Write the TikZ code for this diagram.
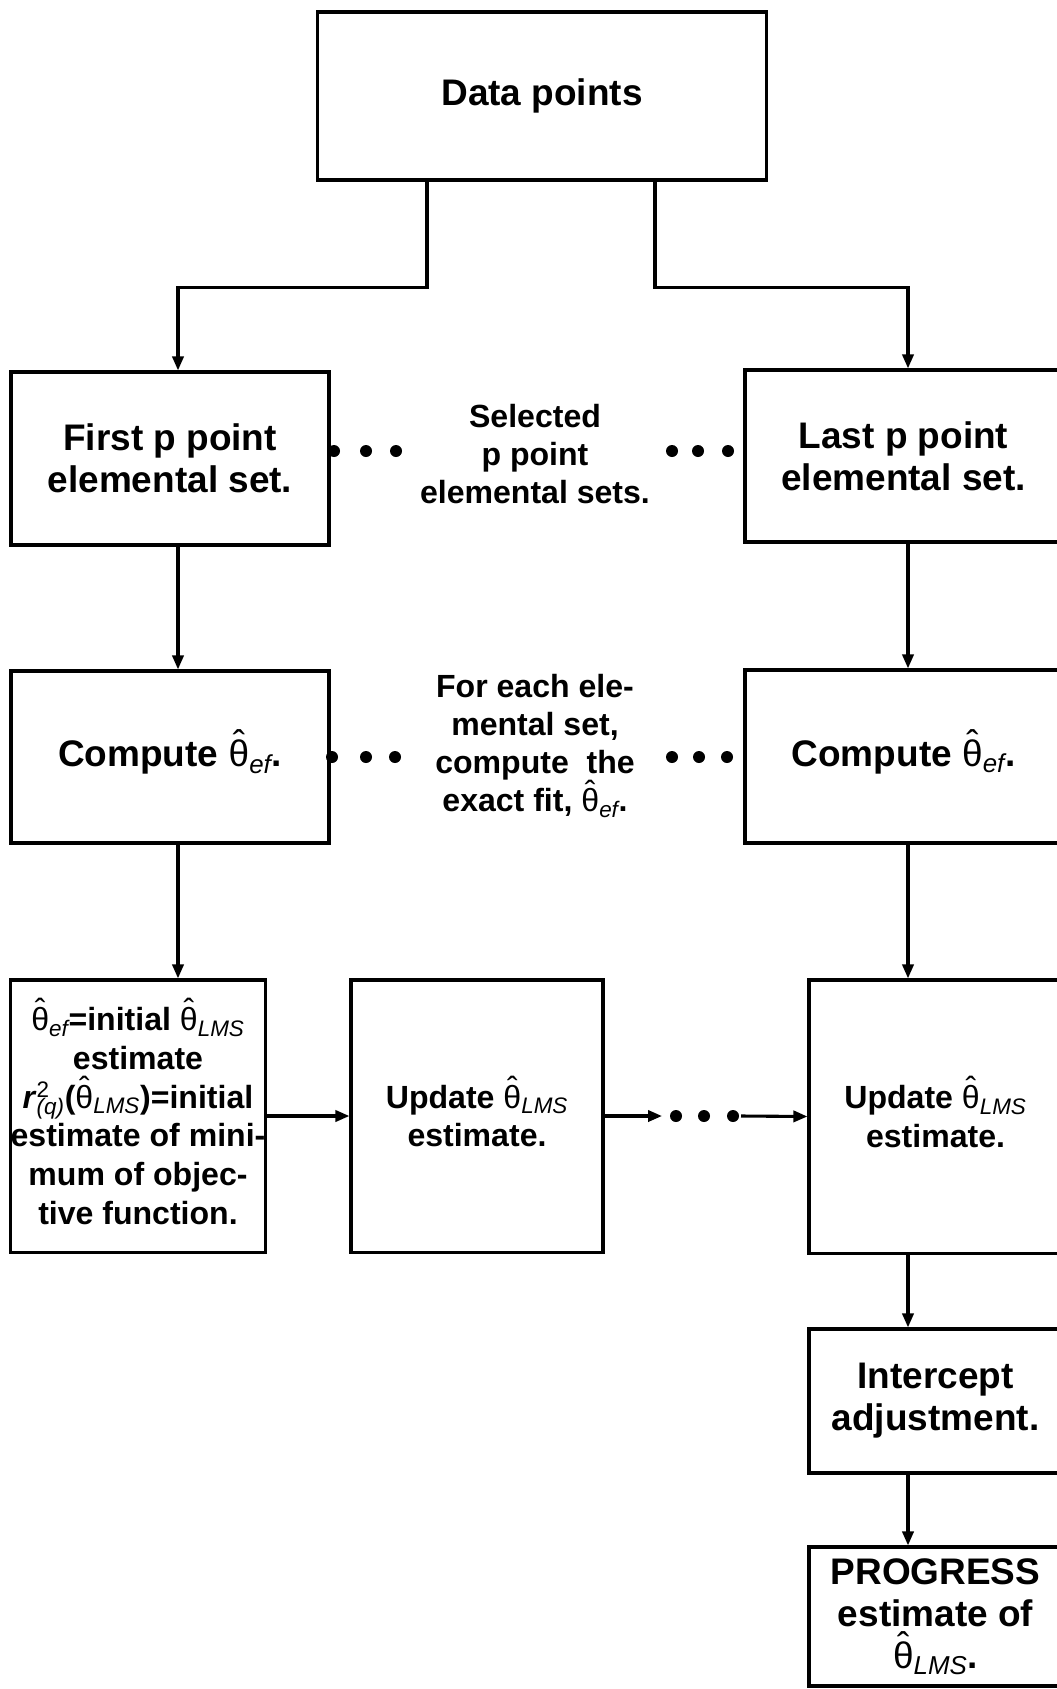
\documentclass[tikz,border=0pt]{standalone}
\usepackage{fontspec}
\setmainfont{Liberation Sans}
\usetikzlibrary{arrows.meta}
\newcommand{\thhat}[1]{{\mdseries\ooalign{θ\cr\hidewidth\raisebox{0.27em}{ˆ}\hidewidth\cr}}\textsubscript{\mdseries\itshape #1}}

\begin{document}
\begin{tikzpicture}[x=0.025cm, y=-0.025cm,
  bigbox/.style={draw, line width=2.2pt, align=center, inner sep=0pt,
    font=\fontsize{26.3}{30}\selectfont\bfseries},
  smallbox/.style={bigbox, font=\fontsize{22.8}{27.6}\selectfont\bfseries},
  note/.style={align=center, inner sep=0pt, font=\fontsize{22.8}{27.2}\selectfont\bfseries},
  arr/.style={draw, line width=2.2pt, -{Triangle[length=0.35cm, width=0.28cm]}}]
  \useasboundingbox (0,0) rectangle (1057,1689);
  \clip (0,0) rectangle (1057,1689);

  \node[bigbox, minimum width=11.2cm, minimum height=4.2cm] (data) at (542,96) {Data points};
  \node[bigbox, minimum width=7.95cm, minimum height=4.325cm] (first) at (170,458.5)
    {First p point\\elemental set.};
  \node[bigbox, minimum width=7.925cm, minimum height=4.3cm] (last) at (903.5,456)
    {Last p point\\elemental set.};
  \node[note] (sel) at (535,454) {Selected\\p point\\elemental sets.};

  \node[bigbox, minimum width=7.95cm, minimum height=4.3cm] (compL) at (170,757)
    {Compute \thhat{ef}.};
  \node[bigbox, minimum width=7.925cm, minimum height=4.325cm] (compR) at (903.5,756.5)
    {Compute \thhat{ef}.};
  \node[note] (fit) at (535,746)
    {For each ele-\\mental set,\\compute~~the\\exact fit, \thhat{ef}.};

  \node[smallbox, minimum width=6.35cm, minimum height=6.8cm] (init) at (138,1116)
    {\thhat{ef}=initial \thhat{LMS}\\estimate\\
     \textit{r}{\mdseries\rlap{\textsuperscript{2}}\textsubscript{\itshape (q)}}(\thhat{LMS})=initial\\
     estimate of mini-\\mum of objec-\\tive function.};
  \node[smallbox, minimum width=6.3cm, minimum height=6.8cm] (upd) at (477,1116)
    {Update \thhat{LMS}\\estimate.};
  \node[smallbox, minimum width=6.325cm, minimum height=6.825cm] (updR) at (935.5,1116.5)
    {Update \thhat{LMS}\\estimate.};
  \node[bigbox, minimum width=6.325cm, minimum height=3.6cm] (icpt) at (935.5,1401)
    {Intercept\\adjustment.};
  \node[bigbox, minimum width=6.325cm, minimum height=3.475cm] (prog) at (935.5,1616.5)
    {PROGRESS\\estimate of\\\thhat{LMS}.};

  \coordinate (colL) at (178,0);
  \coordinate (colR) at (908,0);
  \coordinate (gapA) at (662,1116);
  \coordinate (gapB) at (741,1116);

  \path[arr] ([xshift=-2.875cm]data.south) -- ++(0,106) -| (first.north -| colL);
  \path[arr] ([xshift=2.825cm]data.south) -- ++(0,106) -| (last.north -| colR);
  \path[arr] (first.south -| colL) -- (compL.north -| colL);
  \path[arr] (compL.south -| colL) -- (init.north -| colL);
  \path[arr] (last.south -| colR) -- (compR.north -| colR);
  \path[arr] (compR.south -| colR) -- (updR.north -| colR);
  \path[arr] (updR.south -| colR) -- (icpt.north -| colR);
  \path[arr] (icpt.south -| colR) -- (prog.north -| colR);
  \path[arr] (init.east) -- (upd.west);
  \path[arr] (upd.east) -- (gapA);
  \path[arr] (gapB) -- (updR.west);

  \foreach \x in {334,366,396,672,698,728}
    \fill (\x,451) circle (0.15cm);
  \foreach \x in {332,366,395,672,699,727}
    \fill (\x,757) circle (0.15cm);
  \foreach \x in {676,704,733}
    \fill (\x,1116) circle (0.15cm);
\end{tikzpicture}
\end{document}
